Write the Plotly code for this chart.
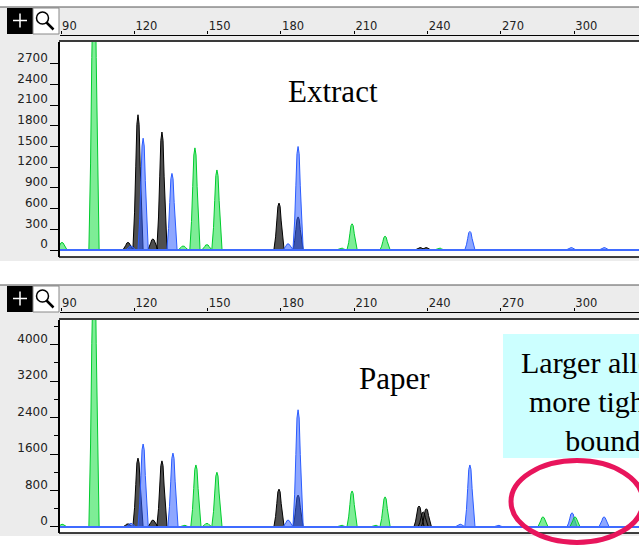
import plotly.graph_objects as go

W, H = 639, 547

# ---------------- data ----------------
ruler_ticks = [90, 120, 150, 180, 210, 240, 270, 300]
ext_yticks = [0, 300, 600, 900, 1200, 1500, 1800, 2100, 2400, 2700]
pap_yticks = [0, 800, 1600, 2400, 3200, 4000]
pap_minor_yticks = [400, 1200, 2000, 2800, 3600, 4400]

# Extract panel peaks (size in bp, height in RFU)
ext_green_size = [90.4, 103.5, 140.0, 144.8, 149.7, 153.8, 204.6, 209.1, 222.6, 244.7]
ext_green_rfu = [110, 4500, 60, 1480, 80, 1160, 30, 380, 200, 30]
ext_black_size = [117.4, 121.5, 127.6, 131.3, 179.2, 187.0, 236.9, 239.3]
ext_black_rfu = [110, 1960, 160, 1710, 680, 480, 35, 35]
ext_blue_size = [118.6, 123.6, 135.4, 182.9, 187.0, 257.3, 298.7, 312.2]
ext_blue_rfu = [60, 1620, 1110, 90, 1500, 270, 35, 35]

# Paper panel peaks
pap_green_size = [90.4, 103.5, 140.3, 145.2, 149.7, 153.8, 204.6, 209.1, 218.5, 222.6, 287.2, 300.3]
pap_green_rfu = [60, 6500, 40, 1360, 80, 1200, 40, 790, 40, 660, 220, 220]
pap_black_size = [117.4, 121.5, 127.6, 131.3, 179.2, 187.0, 236.5, 238.2, 239.5]
pap_black_rfu = [70, 1510, 150, 1450, 830, 700, 460, 330, 400]
pap_blue_size = [118.6, 123.6, 135.8, 182.9, 187.0, 253.3, 257.3, 268.8, 299.1, 312.2]
pap_blue_rfu = [80, 1820, 1620, 150, 2570, 60, 1360, 40, 310, 220]

panel_labels = ["Extract", "Paper"]
note_text = "Larger alleles<br>more tightly<br>bound"

# ---------------- helpers ----------------
def X(p):
    return p / W


def Y(p):
    return 1 - p / H


PROFILE_DX = [-2.1, -1.4, -0.9, -0.45, 0, 0.45, 0.9, 1.4, 2.1]
PROFILE_F = [0, 0.28, 0.62, 0.93, 1, 0.93, 0.62, 0.28, 0]


def peaks(sizes, rfus):
    xs, ys = [], []
    for s, h in zip(sizes, rfus):
        xs += [s + d for d in PROFILE_DX] + [None]
        ys += [h * f for f in PROFILE_F] + [None]
    return xs, ys


XRANGE = [89.59, 326.5]
GREEN_F, GREEN_L = "rgba(40,225,80,0.6)", "#00cc2e"
BLUE_F, BLUE_L = "rgba(50,95,255,0.55)", "#2a5cff"
BLACK_F, BLACK_L = "rgba(20,20,20,0.75)", "#000000"

fig = go.Figure()

panels = [
    dict(xa="x", ya="y", data=[(ext_black_size, ext_black_rfu, BLACK_F, BLACK_L),
                               (ext_blue_size, ext_blue_rfu, BLUE_F, BLUE_L),
                               (ext_green_size, ext_green_rfu, GREEN_F, GREEN_L)]),
    dict(xa="x2", ya="y2", data=[(pap_black_size, pap_black_rfu, BLACK_F, BLACK_L),
                                 (pap_blue_size, pap_blue_rfu, BLUE_F, BLUE_L),
                                 (pap_green_size, pap_green_rfu, GREEN_F, GREEN_L)]),
]

for pn in panels:
    for sizes, rfus, fc, lc in pn["data"]:
        xs, ys = peaks(sizes, rfus)
        fig.add_trace(go.Scatter(x=xs, y=ys, xaxis=pn["xa"], yaxis=pn["ya"], mode="lines",
                                 fill="toself", fillcolor=fc, line=dict(color=lc, width=1),
                                 hoverinfo="skip", showlegend=False))
    fig.add_trace(go.Scatter(x=XRANGE, y=[0, 0], xaxis=pn["xa"], yaxis=pn["ya"], mode="lines",
                             line=dict(color="#3f6bff", width=2), hoverinfo="skip", showlegend=False))

# geometry (pixel positions)
geo = [
    dict(top=7, ruler=34.5, ptop=42, pbot=257, gbot=261, yr=[-101, 3014]),
    dict(top=285, ruler=311.5, ptop=320, pbot=533, gbot=536, yr=[-132, 4539]),
]

tickfont = dict(family="DejaVu Sans", size=12, color="#222")
rulerfont = dict(family="DejaVu Sans", size=11.5, color="#222")

shapes = []
for i, g in enumerate(geo):
    t = g["top"]
    shapes += [
        dict(type="rect", xref="paper", yref="paper", x0=0, x1=1, y0=Y(g["gbot"]), y1=Y(t),
             fillcolor="#ececec", line=dict(width=0), layer="below"),
        dict(type="rect", xref="paper", yref="paper", x0=X(60), x1=1, y0=Y(g["pbot"]), y1=Y(g["ptop"]),
             fillcolor="white", line=dict(width=0), layer="below"),
        dict(type="line", xref="paper", yref="paper", x0=0, x1=1, y0=Y(t), y1=Y(t),
             line=dict(color="#555", width=1)),
        # plus icon
        dict(type="rect", xref="paper", yref="paper", x0=X(7), x1=X(33), y0=Y(t + 27), y1=Y(t + 1),
             fillcolor="black", line=dict(width=0)),
        dict(type="line", xref="paper", yref="paper", x0=X(13), x1=X(27), y0=Y(t + 13.5), y1=Y(t + 13.5),
             line=dict(color="white", width=1.5)),
        dict(type="line", xref="paper", yref="paper", x0=X(20), x1=X(20), y0=Y(t + 6.5), y1=Y(t + 20.5),
             line=dict(color="white", width=1.5)),
        # magnifier icon
        dict(type="rect", xref="paper", yref="paper", x0=X(33), x1=X(59), y0=Y(t + 27), y1=Y(t + 1),
             fillcolor="white", line=dict(color="#888", width=1)),
        dict(type="circle", xref="paper", yref="paper", x0=X(36.5), x1=X(48.5), y0=Y(t + 17), y1=Y(t + 5),
             line=dict(color="black", width=1.5)),
        dict(type="line", xref="paper", yref="paper", x0=X(46.5), x1=X(53.5), y0=Y(t + 15.5), y1=Y(t + 22.5),
             line=dict(color="black", width=2.5)),
        # plot area borders
        dict(type="line", xref="paper", yref="paper", x0=X(59), x1=1, y0=Y(g["ptop"] - 1), y1=Y(g["ptop"] - 1),
             line=dict(color="#3a3a3a", width=2)),
        dict(type="line", xref="paper", yref="paper", x0=X(59), x1=1, y0=Y(g["pbot"]), y1=Y(g["pbot"]),
             line=dict(color="black", width=1.5)),
    ]

# note box and ellipse
shapes += [
    dict(type="rect", xref="paper", yref="paper", x0=X(503), x1=X(705), y0=Y(458), y1=Y(334),
         fillcolor="#ccffff", line=dict(width=0)),
    dict(type="circle", xref="paper", yref="paper", x0=X(511), x1=X(643), y0=Y(542.5), y1=Y(460.5),
         line=dict(color="#e8155c", width=5)),
]

layout = dict(
    width=W, height=H, autosize=False,
    margin=dict(l=0, r=0, t=0, b=0),
    paper_bgcolor="white", plot_bgcolor="rgba(0,0,0,0)",
    shapes=shapes,
    annotations=[
        dict(text=panel_labels[0], xref="paper", yref="paper", x=X(333), y=Y(92), showarrow=False,
             xanchor="center", yanchor="middle", font=dict(family="Liberation Serif", size=31, color="black")),
        dict(text=panel_labels[1], xref="paper", yref="paper", x=X(394), y=Y(378), showarrow=False,
             xanchor="center", yanchor="middle", font=dict(family="Liberation Serif", size=31, color="black")),
        dict(text=note_text, xref="paper", yref="paper", x=X(603), y=Y(401), showarrow=False,
             xanchor="center", yanchor="middle", align="center",
             font=dict(family="Liberation Serif", size=30, color="black")),
    ],
)

for i, g in enumerate(geo):
    xk = "xaxis" if i == 0 else "xaxis2"
    yk = "yaxis" if i == 0 else "yaxis2"
    xa = "x" if i == 0 else "x2"
    layout[xk] = dict(domain=[X(60), 1], range=XRANGE, anchor="free", position=Y(g["ruler"]),
                      side="top", tickmode="array", tickvals=ruler_ticks, ticks="outside", ticklen=3,
                      tickcolor="black", ticklabelposition="outside right", showline=True,
                      linecolor="black", linewidth=1.2, showgrid=False, zeroline=False,
                      tickfont=rulerfont, fixedrange=True)
    yd = dict(domain=[Y(g["pbot"]), Y(g["ptop"])], range=g["yr"], anchor=xa, showgrid=False,
              zeroline=False, showline=True, linecolor="black", linewidth=1.5, ticks="outside",
              ticklen=8, tickcolor="black", tickfont=tickfont, ticklabelshift=-6, fixedrange=True)
    if i == 0:
        yd.update(tickmode="array", tickvals=ext_yticks)
    else:
        yd.update(tickmode="array", tickvals=pap_yticks,
                  minor=dict(tickmode="array", tickvals=pap_minor_yticks,
                             ticks="outside", ticklen=4, tickcolor="black"))
    layout[yk] = yd

fig.update_layout(**layout)
fig.write_html("out.html")
